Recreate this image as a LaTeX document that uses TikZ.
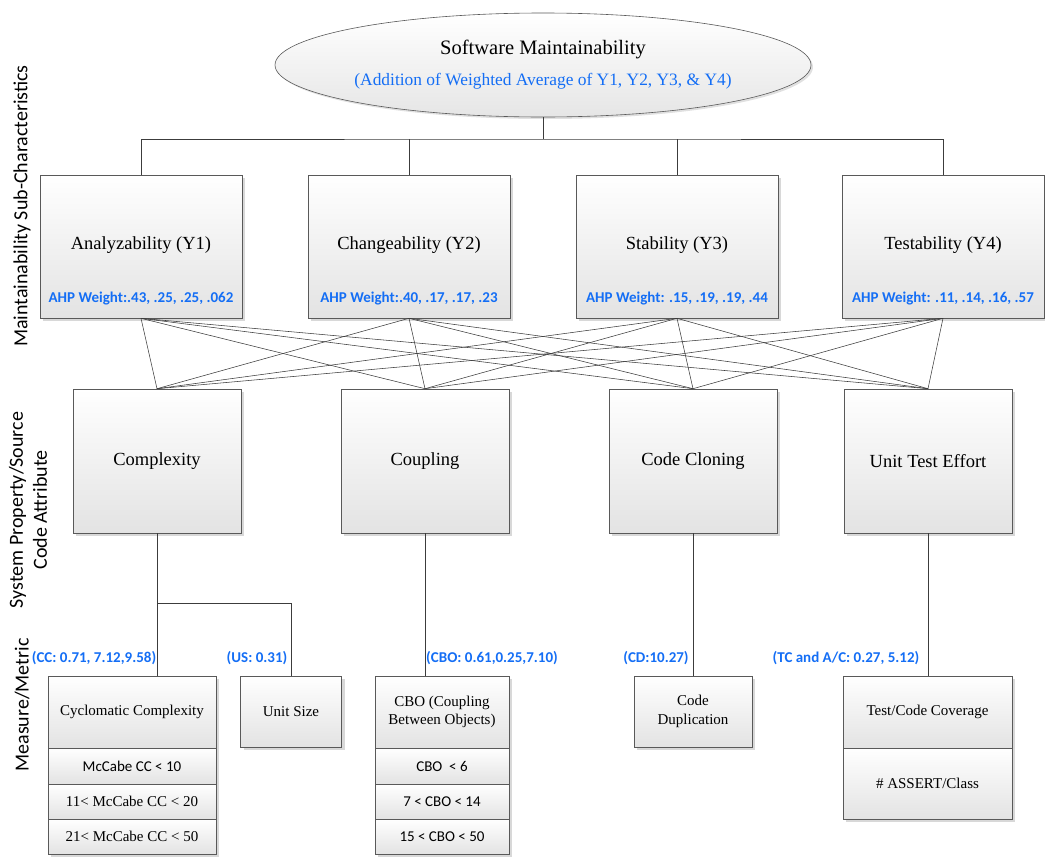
\documentclass[tikz,border=0pt]{standalone}
\usepackage{fontspec}
\setmainfont{Liberation Serif}
\newfontfamily\tnr{Liberation Serif}
\newfontfamily\calib{Carlito}
\usetikzlibrary{shapes.geometric,shadows}
\definecolor{ablue}{RGB}{20,110,245}
\definecolor{lnc}{RGB}{60,60,60}
\tikzset{
  box/.style={draw=black!65, line width=0.6pt, top color=white, bottom color=black!11,
    drop shadow={shadow xshift=3pt, shadow yshift=-3pt, fill=black!22, opacity=0.7},
    inner sep=2pt, align=center},
  wire/.style={draw=lnc, line width=0.55pt},
  blue/.style={text=ablue, font=\calib\bfseries\fontsize{15}{17}\selectfont, inner sep=0pt},
  side/.style={rotate=90, font=\calib\fontsize{20}{24}\selectfont, align=center, inner sep=0pt},
  ttl/.style={font=\tnr\fontsize{18.5}{21}\selectfont, inner sep=0pt},
  sml/.style={font=\tnr\fontsize{15}{18.5}\selectfont, inner sep=0pt, align=center},
  sms/.style={font=\calib\fontsize{15}{17}\selectfont, inner sep=0pt, align=center},
}
\begin{document}
\begin{tikzpicture}[x=1pt,y=-1pt]
\useasboundingbox (0,0) rectangle (1045,857);
% top ellipse
\node[ellipse, draw=black!65, line width=0.6pt, top color=white, bottom color=black!10,
  drop shadow={shadow xshift=2pt, shadow yshift=-2pt, fill=black!20, opacity=0.6},
  minimum width=536pt, minimum height=104pt] (sm) at (543,65) {};
\node[font=\tnr\fontsize{20.5}{24}\selectfont, inner sep=0pt] (smt) at (543,49) {Software Maintainability};
\node[text=ablue, font=\tnr\fontsize{17.4}{20}\selectfont, inner sep=0pt] (smsub) at (543,81) {(Addition of Weighted Average of Y1, Y2, Y3, \& Y4)};

% sub-characteristics
\foreach \n/\x/\t/\w in {y1/141/Analyzability (Y1)/{AHP Weight:.43, .25, .25, .062},
  y2/409/Changeability (Y2)/{AHP Weight:.40, .17, .17, .23},
  y3/677/Stability (Y3)/{AHP Weight: .15, .19, .19, .44},
  y4/943/Testability (Y4)/{AHP Weight: .11, .14, .16, .57}}{
  \node[box, minimum width=202pt, minimum height=143pt] (\n) at (\x,246.5) {};
  \node[ttl] (\n t) at (\x,245) {\t};
  \node[blue] (\n w) at (\x,299) {\w};
}

% attributes
\foreach \n/\x/\t in {a1/157/Complexity, a2/425/Coupling, a3/693/Code Cloning, a4/928/Unit Test Effort}{
  \node[box, minimum width=168pt, minimum height=144pt] (\n) at (\x,461) {};
  \node[ttl] (\n t) at (\x,461) {\t};
}

% connectors top
\coordinate (bus) at (543,139);
\draw[wire] (sm.south) -- (bus);
\draw[wire] (y1.north) |- (bus) -| (y4.north);
\draw[wire] (y2.north) -- (y2.north |- bus);
\draw[wire] (y3.north) -- (y3.north |- bus);
\foreach \i in {y1,y2,y3,y4}{
  \foreach \j in {a1,a2,a3,a4}{
    \draw[wire] (\i.south) -- (\j.north);
  }
}

% metrics: cyclomatic
\node[box, minimum width=168pt, minimum height=72pt] (cc1) at (132,712) {};
\node[sml] (cc1t) at (132,712) {Cyclomatic Complexity};
\node[box, minimum width=168pt, minimum height=36pt] (cc2) at (132,766) {};
\node[sms] (cc2t) at (132,766) {McCabe CC < 10};
\node[box, minimum width=168pt, minimum height=35pt] (cc3) at (132,801.5) {};
\node[sml] (cc3t) at (132,801.5) {11< McCabe CC < 20};
\node[box, minimum width=168pt, minimum height=35pt] (cc4) at (132,836.5) {};
\node[sml] (cc4t) at (132,836.5) {21< McCabe CC < 50};
% unit size
\node[box, minimum width=101pt, minimum height=71pt] (us) at (291,711.5) {};
\node[sml] (ust) at (291,711.5) {Unit Size};
% CBO
\node[box, minimum width=134pt, minimum height=72pt] (cb1) at (442,712) {};
\node[sml] (cb1t) at (442,712) {CBO (Coupling\\Between Objects)};
\node[box, minimum width=134pt, minimum height=36pt] (cb2) at (442,766) {};
\node[sms] (cb2t) at (442,766) {CBO \ < 6};
\node[box, minimum width=134pt, minimum height=35pt] (cb3) at (442,801.5) {};
\node[sms] (cb3t) at (442,801.5) {7 < CBO < 14};
\node[box, minimum width=134pt, minimum height=35pt] (cb4) at (442,836.5) {};
\node[sms] (cb4t) at (442,836.5) {15 < CBO < 50};
% code duplication
\node[box, minimum width=118pt, minimum height=71pt] (cd) at (693,711.5) {};
\node[sml] (cdt) at (693,711.5) {Code\\Duplication};
% test coverage
\node[box, minimum width=169pt, minimum height=72pt] (tc1) at (927.5,712) {};
\node[sml] (tc1t) at (927.5,712) {Test/Code Coverage};
\node[box, minimum width=169pt, minimum height=71pt] (tc2) at (927.5,783.5) {};
\node[sml] (tc2t) at (927.5,783.5) {\# ASSERT/Class};

% lower connectors
\coordinate (split) at (157,603);
\draw[wire] (a1.south) -- (a1.south |- cc1.north);
\draw[wire] (split) -| (us.north);
\draw[wire] (a2.south) -- (a2.south |- cb1.north);
\draw[wire] (a3.south) -- (cd.north);
\draw[wire] (a4.south) -- (a4.south |- tc1.north);

% blue labels
\node[blue] (lcc) at (94,658) {(CC: 0.71, 7.12,9.58)};
\node[blue] (lus) at (257,658) {(US: 0.31)};
\node[blue] (lcb) at (492,658) {(CBO: 0.61,0.25,7.10)};
\node[blue] (lcd) at (656,658) {(CD:10.27)};
\node[blue] (ltc) at (846,658) {(TC and A/C: 0.27, 5.12)};

% side labels
\node[side] (s1) at (22,206) {Maintainability Sub-Characteristics};
\node[side] (s2) at (28,510) {System Property/Source\\Code Attribute};
\node[side] (s3) at (22,705) {Measure/Metric};
\end{tikzpicture}
\end{document}
